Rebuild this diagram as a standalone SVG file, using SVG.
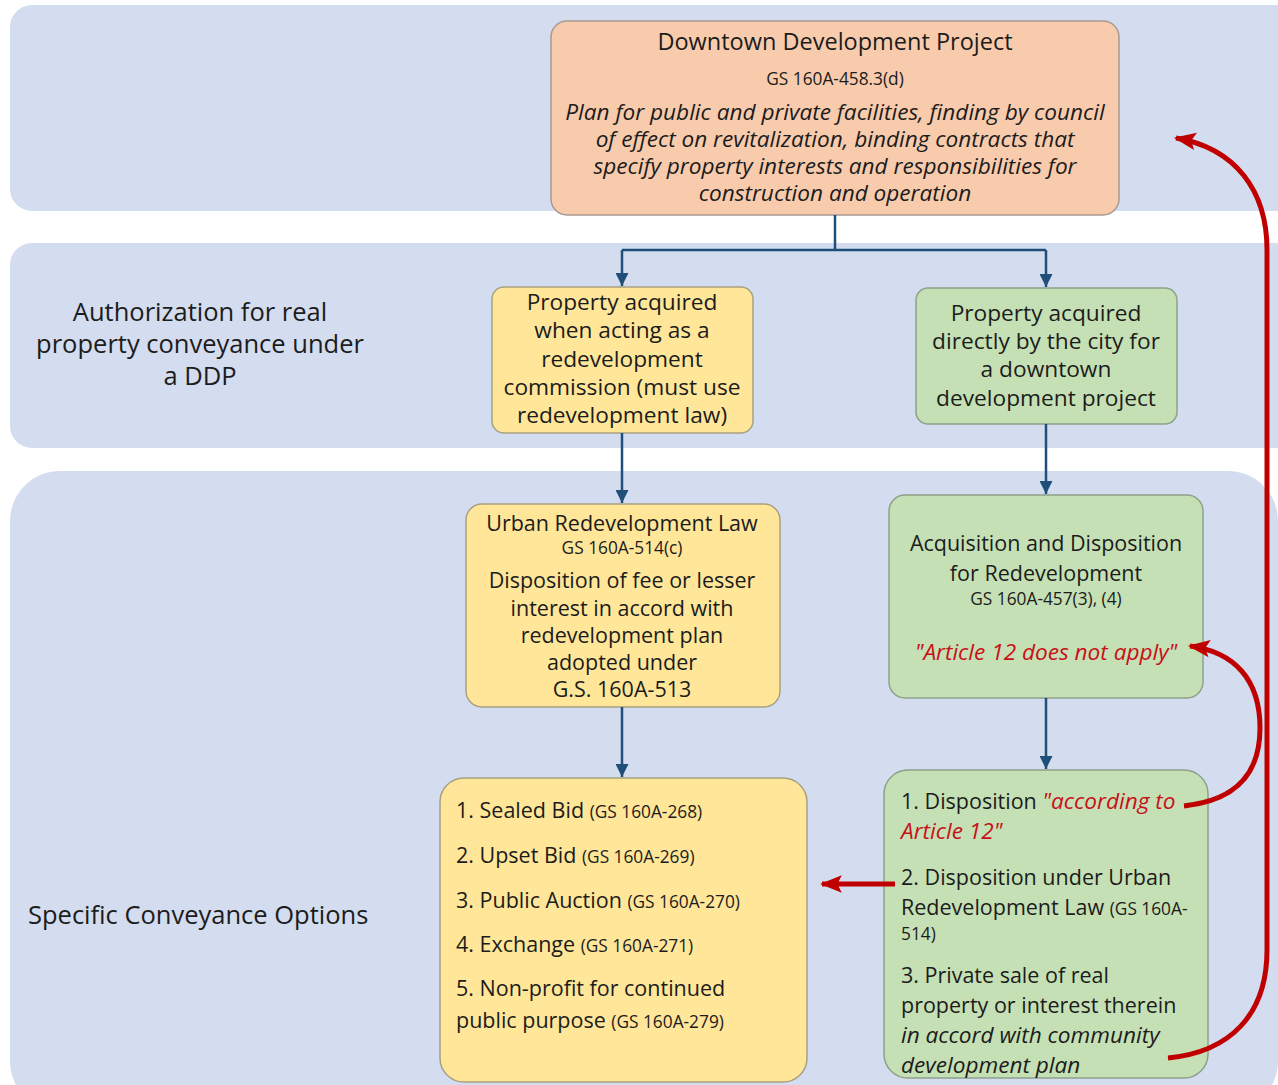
<svg xmlns="http://www.w3.org/2000/svg" width="1278" height="1085" viewBox="0 0 1278 1085">
<defs>
<style>
.band{fill:#d3ddef;}
.t{font-family:"Open Sans",Lato,sans-serif;fill:#1c1c1c;}
.c{text-anchor:middle;}
.m{font-size:21.5px;}
.ml{font-size:22.7px;}
.s{font-size:17.3px;}
.lbl{font-size:25.5px;}
.it{font-style:italic;font-size:22.6px;}
.red{fill:#c8101a;}
.orange{fill:#f8cbad;stroke:#a89a90;stroke-width:1.5;}
.yellow{fill:#ffe699;stroke:#a8a080;stroke-width:1.5;}
.green{fill:#c5e0b4;stroke:#8fa08a;stroke-width:1.5;}
.blue{fill:none;stroke:#1f4e79;stroke-width:2.5;}
.redline{fill:none;stroke:#c00000;stroke-width:5;}
</style>
<marker id="ab" viewBox="0 0 10 10" refX="10" refY="5" markerWidth="13" markerHeight="13" markerUnits="userSpaceOnUse" orient="auto">
<path d="M0,0 L10,5 L0,10 z" fill="#1f4e79"/>
</marker>
<marker id="ar" viewBox="0 0 10 10" refX="9" refY="5" markerWidth="22" markerHeight="22" markerUnits="userSpaceOnUse" orient="auto">
<path d="M0,1 L10,5 L0,9 L2,5 z" fill="#c00000"/>
</marker>
</defs>

<g id="bands">
<rect class="band" x="10" y="5" width="1290" height="206" rx="22"/>
<rect class="band" x="10" y="243" width="1290" height="205" rx="22"/>
<rect class="band" x="10" y="471" width="1268" height="640" rx="50"/>
</g>

<g id="labels">
<text class="t c lbl" x="200" y="321">Authorization for real</text>
<text class="t c lbl" x="200" y="353">property conveyance under</text>
<text class="t c lbl" x="200" y="385">a DDP</text>
<text class="t lbl" x="28" y="924">Specific Conveyance Options</text>
</g>

<g id="ddp">
<rect class="orange" x="551" y="21" width="568" height="194" rx="16"/>
<text class="t c" x="835" y="50" font-size="23.5px">Downtown Development Project</text>
<text class="t c s" x="835" y="85">GS 160A-458.3(d)</text>
<text class="t c it" x="835" y="120">Plan for public and private facilities, finding by council</text>
<text class="t c it" x="835" y="147">of effect on revitalization, binding contracts that</text>
<text class="t c it" x="835" y="174">specify property interests and responsibilities for</text>
<text class="t c it" x="835" y="201">construction and operation</text>
</g>

<g id="commission">
<rect class="yellow" x="492" y="287" width="261" height="146" rx="12"/>
<text class="t c ml" x="622" y="310">Property acquired</text>
<text class="t c ml" x="622" y="338">when acting as a</text>
<text class="t c ml" x="622" y="367">redevelopment</text>
<text class="t c ml" x="622" y="395">commission (must use</text>
<text class="t c ml" x="622" y="423">redevelopment law)</text>
</g>

<g id="direct">
<rect class="green" x="916" y="288" width="261" height="136" rx="12"/>
<text class="t c ml" x="1046" y="321">Property acquired</text>
<text class="t c ml" x="1046" y="349">directly by the city for</text>
<text class="t c ml" x="1046" y="377">a downtown</text>
<text class="t c ml" x="1046" y="406">development project</text>
</g>

<g id="urban">
<rect class="yellow" x="466" y="504" width="314" height="203" rx="16"/>
<text class="t c m" x="622" y="531">Urban Redevelopment Law</text>
<text class="t c s" x="622" y="554">GS 160A-514(c)</text>
<text class="t c m" x="622" y="588">Disposition of fee or lesser</text>
<text class="t c m" x="622" y="616">interest in accord with</text>
<text class="t c m" x="622" y="643">redevelopment plan</text>
<text class="t c m" x="622" y="670">adopted under</text>
<text class="t c m" x="622" y="697">G.S. 160A-513</text>
</g>

<g id="acquisition">
<rect class="green" x="889" y="495" width="314" height="203" rx="16"/>
<text class="t c m" x="1046" y="551">Acquisition and Disposition</text>
<text class="t c m" x="1046" y="581">for Redevelopment</text>
<text class="t c s" x="1046" y="605">GS 160A-457(3), (4)</text>
<text class="t c it red" x="1046" y="660" font-size="23px">"Article 12 does not apply"</text>
</g>

<g id="options">
<rect class="yellow" x="440" y="778" width="367" height="304" rx="24"/>
<text class="t m" x="456" y="818">1. Sealed Bid <tspan class="s">(GS 160A-268)</tspan></text>
<text class="t m" x="456" y="863">2. Upset Bid <tspan class="s">(GS 160A-269)</tspan></text>
<text class="t m" x="456" y="908">3. Public Auction <tspan class="s">(GS 160A-270)</tspan></text>
<text class="t m" x="456" y="952">4. Exchange <tspan class="s">(GS 160A-271)</tspan></text>
<text class="t m" x="456" y="996">5. Non-profit for continued</text>
<text class="t m" x="456" y="1028">public purpose <tspan class="s">(GS 160A-279)</tspan></text>
</g>

<g id="disposition">
<rect class="green" x="884" y="770" width="324" height="308" rx="24"/>
<text class="t m" x="901" y="809">1. Disposition <tspan class="it red">"according to</tspan></text>
<text class="t it red" x="901" y="839">Article 12"</text>
<text class="t m" x="901" y="885">2. Disposition under Urban</text>
<text class="t m" x="901" y="915">Redevelopment Law <tspan class="s">(GS 160A-</tspan></text>
<text class="t s" x="901" y="940">514)</text>
<text class="t m" x="901" y="983">3. Private sale of real</text>
<text class="t m" x="901" y="1013">property or interest therein</text>
<text class="t it" x="901" y="1043">in accord with community</text>
<text class="t it" x="901" y="1073">development plan</text>
</g>

<g id="connectors">
<path class="blue" d="M835,215 V250 M622,250 H1046"/>
<path class="blue" d="M622,250 V286" marker-end="url(#ab)"/>
<path class="blue" d="M1046,250 V287" marker-end="url(#ab)"/>
<path class="blue" d="M622,433 V503" marker-end="url(#ab)"/>
<path class="blue" d="M1046,424 V494" marker-end="url(#ab)"/>
<path class="blue" d="M622,707 V777" marker-end="url(#ab)"/>
<path class="blue" d="M1046,698 V769" marker-end="url(#ab)"/>
<path class="redline" d="M895,884 H822" marker-end="url(#ar)"/>
<path class="redline" d="M1184,806 C1240,800 1260,770 1260,728 C1260,680 1235,652 1190,646" marker-end="url(#ar)"/>
<path class="redline" d="M1168,1058 C1230,1052 1267,1015 1267,950 L1267,250 C1267,190 1235,148 1176,138" marker-end="url(#ar)"/>
</g>
</svg>
